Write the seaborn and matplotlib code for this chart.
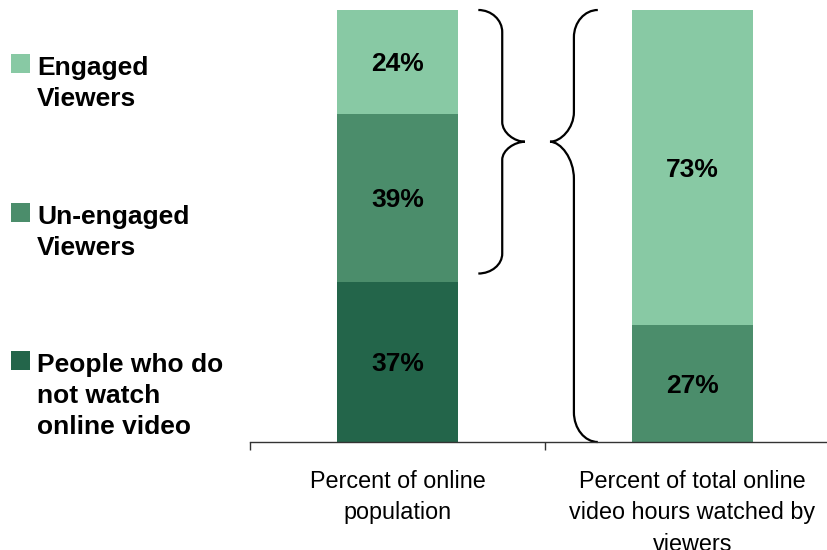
import matplotlib
matplotlib.use("Agg")
import matplotlib.pyplot as plt
from matplotlib.path import Path
from matplotlib.patches import PathPatch, Rectangle
import seaborn as sns
import numpy as np

# ---- data -------------------------------------------------------------
categories = ["Percent of online\npopulation",
              "Percent of total online\nvideo hours watched by\nviewers"]
segment_names = ["People who do\nnot watch\nonline video",
                 "Un-engaged\nViewers",
                 "Engaged\nViewers"]
non_watchers = [37, 0]
unengaged = [39, 27]
engaged = [24, 73]

segment_colors = ["#23654A", "#4B8D6B", "#88C9A4"]

# ---- figure -----------------------------------------------------------
sns.set_theme(style="white")
plt.rcParams["font.family"] = ["Liberation Sans", "DejaVu Sans"]

fig = plt.figure(figsize=(8.27, 5.5), dpi=100)
ax = fig.add_axes([250 / 827, 108 / 550, 590 / 827, 432 / 550])

stack = np.array([non_watchers, unengaged, engaged], dtype=float)
tops = np.cumsum(stack, axis=0)
bottoms = tops - stack

# stacked bars: draw cumulative totals from the top layer down
for i in reversed(range(len(stack))):
    sns.barplot(x=categories, y=tops[i], color=segment_colors[i],
                saturation=1, width=0.407, linewidth=0, ax=ax)

# segment value labels, glyphs centred on each segment
for i in range(len(stack)):
    for j in range(len(categories)):
        v = stack[i, j]
        if v > 0:
            ax.annotate(f"{v:.0f}%", xy=(j, bottoms[i, j] + v / 2),
                        xytext=(0, -6.7), textcoords="offset points",
                        ha="center", va="baseline", fontsize=19,
                        fontweight="bold", color="black")

ax.set_xlim(-0.5, 1.5)
ax.set_ylim(0, 100)
ax.set_yticks([])
ax.set_ylabel("")
for side in ("left", "top", "right"):
    ax.spines[side].set_visible(False)
ax.spines["bottom"].set_color("#333333")
ax.spines["bottom"].set_linewidth(1)

ax.set_xticks([0, 1])
ax.set_xticklabels(categories, fontsize=16.8)
for lbl in ax.get_xticklabels():
    lbl.set_linespacing(1.48)
ax.set_xticks([-0.5, 0.5, 1.5], minor=True)
ax.tick_params(axis="x", which="major", length=0, pad=20, colors="black")
ax.tick_params(axis="x", which="minor", bottom=True, length=6, width=1,
               color="#333333", direction="out")


def brace(ax, x_end, x_mid, x_tip, y_top, y_tip, y_bot,
          r_top, r_up, r_low, r_bot):
    """Curly brace built from cubic Bezier quarter-arcs."""
    k = 0.55
    verts = [(x_end, y_top),
             (x_end + k * (x_mid - x_end), y_top), (x_mid, y_top - (1 - k) * r_top), (x_mid, y_top - r_top),
             (x_mid, y_tip + r_up),
             (x_mid, y_tip + (1 - k) * r_up), (x_mid + k * (x_tip - x_mid), y_tip), (x_tip, y_tip),
             (x_mid + k * (x_tip - x_mid), y_tip), (x_mid, y_tip - (1 - k) * r_low), (x_mid, y_tip - r_low),
             (x_mid, y_bot + r_bot),
             (x_mid, y_bot + (1 - k) * r_bot), (x_end + k * (x_mid - x_end), y_bot), (x_end, y_bot)]
    codes = [Path.MOVETO,
             Path.CURVE4, Path.CURVE4, Path.CURVE4,
             Path.LINETO,
             Path.CURVE4, Path.CURVE4, Path.CURVE4,
             Path.CURVE4, Path.CURVE4, Path.CURVE4,
             Path.LINETO,
             Path.CURVE4, Path.CURVE4, Path.CURVE4]
    ax.add_patch(PathPatch(Path(verts, codes), fill=False, lw=1.6,
                           color="black", clip_on=False))


# brace over the viewers (engaged + un-engaged) of the first bar
viewers_low = non_watchers[0] + 2
viewers_high = 100
tip_y = (viewers_low + viewers_high) / 2
brace(ax, 0.274, 0.355, 0.432, viewers_high, tip_y, viewers_low,
      5.1, 4.6, 4.2, 4.6)
# brace spanning the whole second bar
brace(ax, 0.679, 0.598, 0.517, 100, tip_y, 0,
      6.3, 6.9, 8.6, 6.9)

# ---- legend (left side) -----------------------------------------------
legend_rows = [(56, segment_colors[2], segment_names[2]),
               (205, segment_colors[1], segment_names[1]),
               (353, segment_colors[0], segment_names[0])]
for top_px, col, name in legend_rows:
    fig.patches.append(Rectangle((11 / 827, 1 - (top_px + 17) / 550),
                                 19 / 827, 19 / 550, transform=fig.transFigure,
                                 facecolor=col, edgecolor="none"))
    fig.text(37 / 827, 1 - top_px / 550, name, ha="left", va="top",
             fontsize=19, fontweight="bold", color="black", linespacing=1.37)

fig.savefig("out.png", dpi=100)
